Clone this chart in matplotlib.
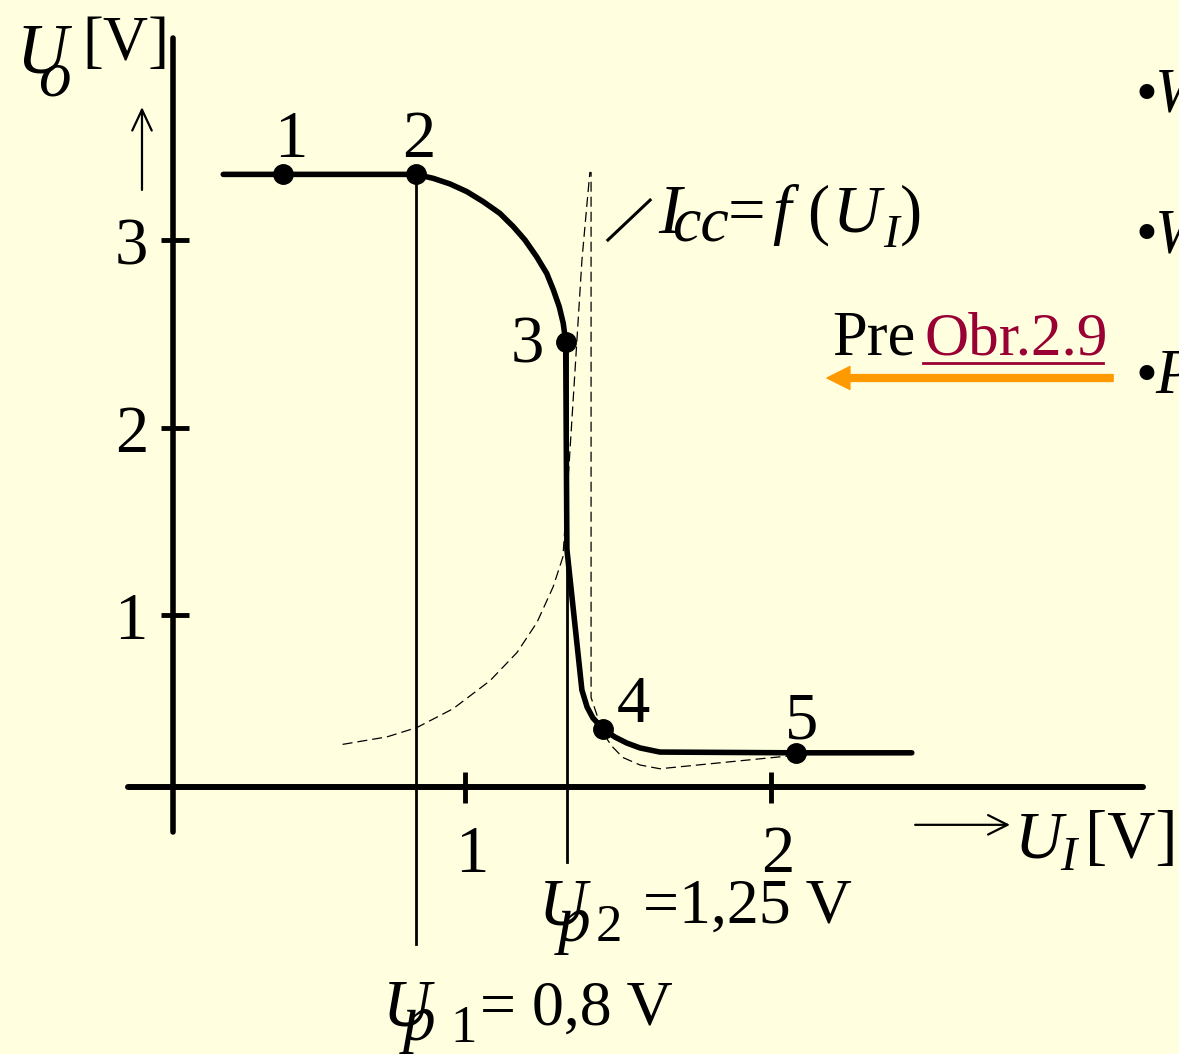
import matplotlib
matplotlib.use("Agg")
import matplotlib.pyplot as plt

# --- data (volts) ---
x_ticks = [1, 2]
y_ticks = [1, 2, 3]

# transfer characteristic U_O = f(U_I)
uo_x = [0.21, 0.405, 0.84, 0.896, 0.951, 1.006, 1.06, 1.114, 1.158, 1.196, 1.234,
        1.267, 1.289, 1.308, 1.321, 1.329, 1.333, 1.382, 1.399, 1.418, 1.451,
        1.49, 1.529, 1.572, 1.637, 2.082, 2.46]
uo_y = [3.35, 3.35, 3.35, 3.329, 3.299, 3.258, 3.204, 3.142, 3.071, 3.0, 2.911,
        2.822, 2.733, 2.644, 2.556, 2.458, 1.35, 0.60, 0.509, 0.451, 0.392,
        0.349, 0.317, 0.291, 0.269, 0.265, 0.265]

# marked points 1..5
pt_x = [0.405, 0.84, 1.329, 1.451, 2.082]
pt_y = [3.35, 3.35, 2.458, 0.392, 0.265]
pt_labels = ["1", "2", "3", "4", "5"]

# supply current I_CC = f(U_I), dashed
icc_x = [0.60, 0.745, 0.843, 0.961, 1.082, 1.17, 1.235, 1.288, 1.32, 1.34, 1.359,
         1.382, 1.399, 1.408, 1.412, 1.412, 1.451, 1.48, 1.516, 1.572, 1.637, 2.069]
icc_y = [0.31, 0.35, 0.40, 0.50, 0.65, 0.80, 0.96, 1.15, 1.31, 1.80, 2.29,
         2.89, 3.20, 3.36, 3.36, 0.56, 0.37, 0.30, 0.24, 0.20, 0.18, 0.25]

up1 = 0.84   # drawn position of U_p1 = 0,8 V
up2 = 1.333  # drawn position of U_p2 = 1,25 V

bg = "#ffffe0"
plt.rcParams["font.family"] = ["Liberation Serif", "DejaVu Serif"]

fig = plt.figure(figsize=(11.79, 10.54), dpi=100, facecolor=bg)
ax = fig.add_axes([0, 0, 1, 1])
ax.set_facecolor(bg)
ax.set_xlim(-0.5196, 3.3333)
ax.set_ylim(-1.3413, 4.28)
ax.axis("off")


def txt(x, y, s, size=48, style="normal", color="black", ha="left"):
    ax.text(x, y, s, fontsize=size, fontstyle=style, color=color,
            ha=ha, va="baseline")


# axes lines and ticks
ax.plot([0.046, 0.046], [-0.157, 4.075], color="black", lw=4, solid_capstyle="round")
ax.plot([-0.101, 3.216], [0.083, 0.083], color="black", lw=4.3, solid_capstyle="round")
ax.hlines(y_ticks, 0.0065, 0.098, color="black", lw=3.5)
ax.vlines(x_ticks, -0.003, 0.163, color="black", lw=3.5)

# U_p verticals
ax.plot([up1, up1], [3.35, -0.757], color="black", lw=2)
ax.plot([up2, up2], [2.46, -0.317], color="black", lw=2)

# I_CC dashed curve
ax.plot(icc_x, icc_y, color="black", lw=0.9, linestyle=(0, (8, 4)))

# U_O curve
ax.plot(uo_x, uo_y, color="black", lw=4, solid_capstyle="round",
        solid_joinstyle="round")
ax.plot(pt_x, pt_y, "o", color="black", markersize=14)

# point labels
lab_x = [0.431, 0.850, 1.203, 1.549, 2.101]
lab_y = [3.443, 3.443, 2.349, 0.429, 0.344]
for lx, ly, s in zip(lab_x, lab_y, pt_labels):
    txt(lx, ly, s, size=48, ha="center")

# tick labels
for t in y_ticks:
    txt(-0.036, t - 0.13, str(t), size=48, ha="right")
for t in x_ticks:
    txt(t + 0.023, -0.371, str(t), size=48, ha="center")

# U_O [V] label with arrow
txt(-0.467, 3.896, "U", size=51, style="italic")
txt(-0.395, 3.773, "o", size=47, style="italic")
txt(-0.252, 3.96, "[V]", size=45)
ax.annotate("", xy=(-0.0556, 3.709), xytext=(-0.0556, 3.267),
            arrowprops=dict(arrowstyle="->,head_length=0.75,head_width=0.35",
                            lw=1.6, color="black", mutation_scale=20,
                            shrinkA=0, shrinkB=0))

# U_I [V] label with arrow
ax.annotate("", xy=(2.781, -0.119), xytext=(2.471, -0.119),
            arrowprops=dict(arrowstyle="->,head_length=0.7,head_width=0.35",
                            lw=1.6, color="black", mutation_scale=20,
                            shrinkA=0, shrinkB=0))
txt(2.797, -0.291, "U", size=48, style="italic")
txt(2.944, -0.36, "I", size=35, style="italic")
txt(3.026, -0.291, "[V]", size=48)

# I_CC = f(U_I) label
ax.plot([1.467, 1.605], [3.0, 3.213], color="black", lw=2.2)
txt(1.631, 3.037, "I", size=50, style="italic")
txt(1.676, 3.0, "cc", size=46, style="italic")
txt(1.859, 3.043, "=", size=48)
txt(2.003, 3.043, "f", size=48, style="italic")
txt(2.118, 3.043, "(", size=48)
txt(2.203, 3.043, "U", size=48, style="italic")
txt(2.366, 2.963, "I", size=34, style="italic")
txt(2.422, 3.043, ")", size=48)

# U_p labels
txt(1.242, -0.653, "U", size=48, style="italic")
txt(1.304, -0.736, "p", size=47, style="italic")
txt(1.428, -0.741, "2", size=38)
txt(1.582, -0.643, "=1,25 V", size=46)

txt(0.732, -1.187, "U", size=48, style="italic")
txt(0.797, -1.266, "p", size=47, style="italic")
txt(0.951, -1.277, "1", size=38)
txt(1.049, -1.187, "= 0,8 V", size=46)

# reference note and orange arrow
txt(2.199, 2.387, "Pre", size=45)
txt(2.500, 2.387, "Obr.2.9", size=44, color="#990033")
ax.plot([2.497, 3.085], [2.344, 2.344], color="#990033", lw=2)
ax.annotate("", xy=(2.183, 2.264), xytext=(3.118, 2.264),
            arrowprops=dict(arrowstyle="simple,head_length=1.0,head_width=1.0,tail_width=0.3",
                            mutation_scale=16.5, color="#ff9900",
                            shrinkA=0, shrinkB=0))

# clipped bullet list on the right
for by, letter in zip([3.683, 2.936, 2.184], ["W", "W", "P"]):
    txt(3.190, by, "\u2022", size=45)
    txt(3.255, by, letter, size=45, style="italic")

fig.savefig("out.png", dpi=100, facecolor=bg)
